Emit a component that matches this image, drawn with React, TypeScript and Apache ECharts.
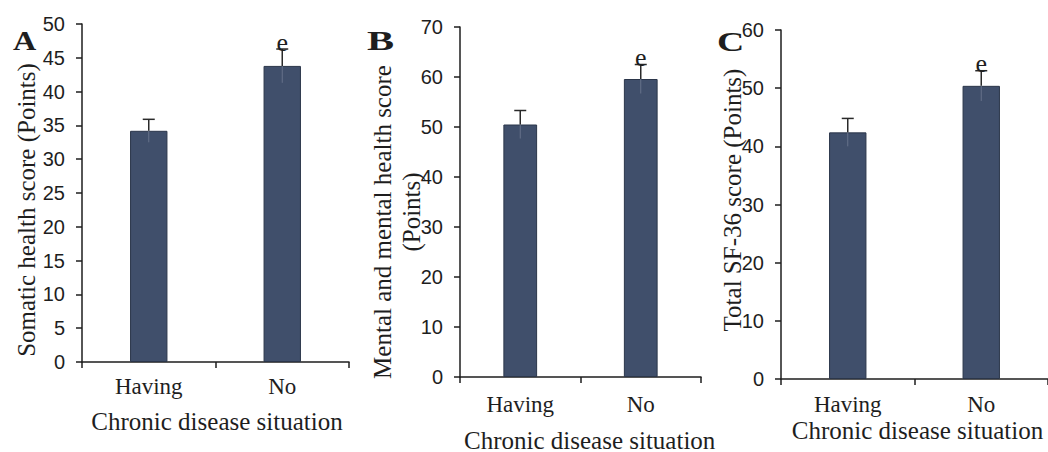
import React, { useEffect, useRef } from "react";
import * as echarts from "echarts";

// ---- data ----
const categories = ["Having", "No"];
const significance = ["", "e"];

const somaticValues = [34.2, 43.8];
const somaticErrors = [1.7, 2.5];

const mentalValues = [50.5, 59.6];
const mentalErrors = [2.8, 2.9];

const totalValues = [42.4, 50.4];
const totalErrors = [2.4, 2.6];

const somaticAxis = { max: 50, interval: 5 };
const mentalAxis = { max: 70, interval: 10 };
const totalAxis = { max: 60, interval: 10 };

const xTitle = "Chronic disease situation";

// ---- styles ----
const SERIF = '"Liberation Serif", "Times New Roman", serif';
const SANS = '"Liberation Sans", Arial, sans-serif';
const INK = "#1e1e1e";
const BAR = "#404f6b";

type PanelCfg = {
  left: number;
  width: number;
  grid: { left: number; top: number; width: number; height: number };
  values: number[];
  errors: number[];
  axis: { max: number; interval: number };
  catMargin: number;
  graphics: any[];
};

function makeOption(cfg: PanelCfg) {
  const { values, errors } = cfg;
  return {
    animation: false,
    grid: { ...cfg.grid, containLabel: false },
    xAxis: {
      type: "category",
      data: categories,
      axisLine: { lineStyle: { color: INK, width: 1.5 } },
      axisTick: { show: true, length: 6, lineStyle: { color: INK, width: 1.5 } },
      axisLabel: {
        margin: cfg.catMargin,
        fontFamily: SERIF,
        fontSize: 23,
        color: INK,
      },
    },
    yAxis: {
      type: "value",
      min: 0,
      max: cfg.axis.max,
      interval: cfg.axis.interval,
      splitLine: { show: false },
      axisLine: { show: true, lineStyle: { color: INK, width: 1.5 } },
      axisTick: { show: true, length: 6, lineStyle: { color: INK, width: 1.5 } },
      axisLabel: { margin: 17, fontFamily: SANS, fontSize: 20, color: INK },
    },
    series: [
      {
        type: "bar",
        data: values,
        barWidth: "28%",
        itemStyle: { color: BAR, borderColor: "#2b364a", borderWidth: 1 },
      },
      {
        type: "custom",
        z: 5,
        encode: { x: 0, y: 1 },
        data: values.map((v, i) => [i, v, errors[i]]),
        renderItem: (params: any, api: any) => {
          const i = api.value(0);
          const v = api.value(1);
          const e = api.value(2);
          const pTop = api.coord([i, v + e]);
          const pMid = api.coord([i, v]);
          const pBot = api.coord([i, v - e]);
          const x = pMid[0];
          const children: any[] = [
            {
              type: "line",
              shape: { x1: x, y1: pBot[1], x2: x, y2: pMid[1] },
              style: { stroke: "#66728a", lineWidth: 1 },
            },
            {
              type: "line",
              shape: { x1: x, y1: pMid[1], x2: x, y2: pTop[1] },
              style: { stroke: "#2a2a2a", lineWidth: 1.5 },
            },
            {
              type: "line",
              shape: { x1: x - 6, y1: pTop[1], x2: x + 6, y2: pTop[1] },
              style: { stroke: "#2a2a2a", lineWidth: 1.5 },
            },
          ];
          const s = significance[params.dataIndex];
          if (s) {
            children.push({
              type: "text",
              x: x,
              y: pTop[1] + 6,
              style: {
                text: s,
                font: `26px ${SERIF}`,
                fill: INK,
                align: "center",
                verticalAlign: "bottom",
              },
            });
          }
          return { type: "group", children };
        },
      },
    ],
    graphic: cfg.graphics,
  };
}

function txt(
  text: string,
  x: number,
  y: number,
  size: number,
  opts: any = {}
) {
  return {
    type: "text",
    x,
    y,
    rotation: opts.rotation || 0,
    scaleX: opts.scaleX || 1,
    style: {
      text,
      font: `${opts.bold ? "bold " : ""}${size}px ${SERIF}`,
      fill: INK,
      align: opts.align || "center",
      verticalAlign: "middle",
    },
  };
}

const ROT = Math.PI / 2;

const panels: PanelCfg[] = [
  {
    left: 0,
    width: 350,
    grid: { left: 82, top: 24, width: 267, height: 338 },
    values: somaticValues,
    errors: somaticErrors,
    axis: somaticAxis,
    catMargin: 13,
    graphics: [
      txt("A", 13, 41, 28, { bold: true, align: "left", scaleX: 1.15 }),
      txt("Somatic health score (Points)", 26, 210, 25, { rotation: ROT }),
      txt(xTitle, 217, 421, 25),
    ],
  },
  {
    left: 350,
    width: 372,
    grid: { left: 110, top: 27, width: 241, height: 350 },
    values: mentalValues,
    errors: mentalErrors,
    axis: mentalAxis,
    catMargin: 16,
    graphics: [
      txt("B", 17, 41, 28, { bold: true, align: "left", scaleX: 1.45 }),
      txt("Mental and mental health score", 32, 222, 25, { rotation: ROT }),
      txt("(Points)", 61, 212, 25, { rotation: ROT }),
      txt(xTitle, 114, 440, 25, { align: "left" }),
    ],
  },
  {
    left: 704,
    width: 344,
    grid: { left: 77, top: 30, width: 274, height: 349 },
    values: totalValues,
    errors: totalErrors,
    axis: totalAxis,
    catMargin: 14,
    graphics: [
      txt("C", 13, 41, 28, { bold: true, align: "left", scaleX: 1.35 }),
      txt("Total SF-36 score (Points)", 28, 200, 25, { rotation: ROT }),
      txt(xTitle, 213.5, 430, 25),
    ],
  },
];

function Panel({ cfg }: { cfg: PanelCfg }) {
  const ref = useRef<HTMLDivElement>(null);
  useEffect(() => {
    if (!ref.current) return;
    const chart = echarts.init(ref.current, undefined, { renderer: "svg" });
    chart.setOption(makeOption(cfg) as any);
    return () => chart.dispose();
  }, [cfg]);
  return (
    <div
      ref={ref}
      style={{
        position: "absolute",
        left: cfg.left,
        top: 0,
        width: cfg.width,
        height: 452,
        overflow: "hidden",
      }}
    />
  );
}

export default function App() {
  return (
    <div
      style={{
        position: "absolute",
        left: 0,
        top: 0,
        width: 1048,
        height: 452,
        background: "#ffffff",
        overflow: "hidden",
      }}
    >
      {panels.map((p, i) => (
        <Panel key={i} cfg={p} />
      ))}
    </div>
  );
}
